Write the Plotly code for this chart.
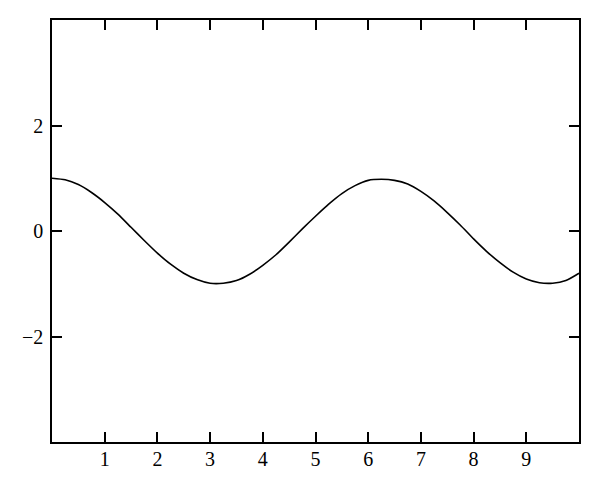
import plotly.graph_objects as go

x_vals = [0, 0.25, 0.5, 0.75, 1, 1.25, 1.5, 1.75, 2, 2.25, 2.5, 2.75, 3, 3.25, 3.5, 3.75,
          4, 4.25, 4.5, 4.75, 5, 5.25, 5.5, 5.75, 6, 6.25, 6.5, 6.75, 7, 7.25, 7.5, 7.75,
          8, 8.25, 8.5, 8.75, 9, 9.25, 9.5, 9.75, 10]
y_vals = [1.00, 0.97, 0.88, 0.73, 0.54, 0.32, 0.07, -0.18, -0.42, -0.63, -0.80, -0.92,
          -0.99, -0.99, -0.94, -0.82, -0.65, -0.45, -0.21, 0.04, 0.28, 0.51, 0.71, 0.86,
          0.96, 0.98, 0.96, 0.89, 0.75, 0.57, 0.35, 0.11, -0.15, -0.39, -0.60, -0.78,
          -0.91, -0.98, -0.99, -0.94, -0.80]
x_ticks = [1, 2, 3, 4, 5, 6, 7, 8, 9]
y_ticks = [-2, 0, 2]

fig = go.Figure()
fig.add_trace(go.Scatter(x=x_vals, y=y_vals, mode="lines",
                         line=dict(color="black", width=1.6, shape="spline", smoothing=0.6),
                         showlegend=False, hoverinfo="skip"))

axis_common = dict(showline=True, linecolor="black", linewidth=1.5, mirror="ticks",
                   ticks="inside", ticklen=10, tickwidth=1.5, tickcolor="black",
                   showgrid=False, zeroline=False, automargin=False,
                   tickfont=dict(family="Liberation Serif, DejaVu Serif, serif", size=20, color="black"))

fig.update_layout(
    width=600, height=491,
    margin=dict(l=44, r=29, t=12, b=57),
    paper_bgcolor="white", plot_bgcolor="white",
    xaxis=dict(range=[0, 10], tickvals=x_ticks, ticklabelstandoff=-2, **axis_common),
    yaxis=dict(range=[-4, 4], tickvals=y_ticks, ticklabelstandoff=3, **axis_common),
)

fig.write_html("out.html")
